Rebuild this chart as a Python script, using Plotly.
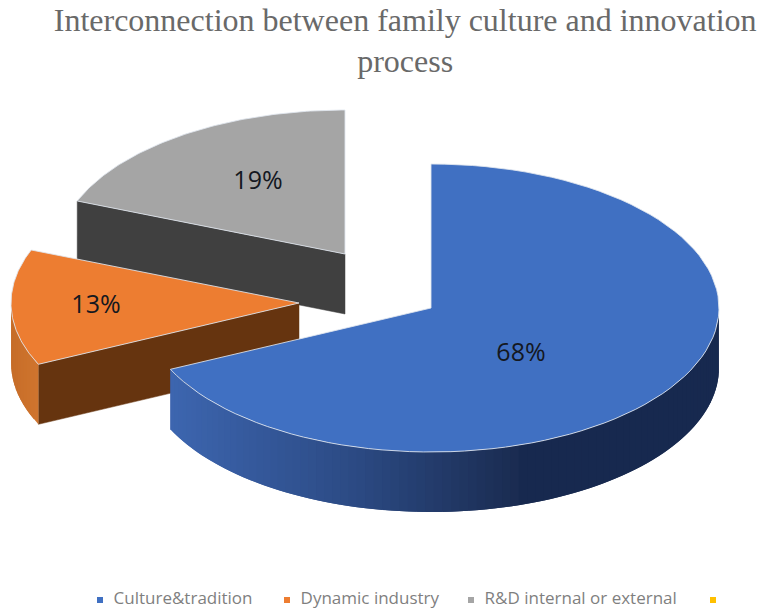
import numpy as np
import plotly.graph_objects as go

categories = ["Culture&tradition", "Dynamic industry", "R&D internal or external", ""]
shares = [68, 13, 19, 0]
share_labels = ["68%", "13%", "19%"]
top_colors = ["#4070C2", "#ED7D31", "#A5A5A5", "#FFC000"]
title_text = "Interconnection between family culture and innovation<br>process"

# Projection of the tilted, exploded pie (axes run in page pixels)
RX, RY, DEPTH = 288, 144, 60
APEX = [(431, 308), (299, 303), (345, 254)]
LABEL_POS = [(521, 355), (96, 307), (258, 183)]
LEGEND_Y = 600
LEGEND_MARK_X = [100, 287, 471, 713]
EDGE = "rgba(225,230,238,0.85)"


def ell(apex, t):
    t = np.radians(t)
    return apex[0] + RX * np.sin(t), apex[1] - RY * np.cos(t)


def mix(a, b, f):
    a = np.array([int(a[i:i + 2], 16) for i in (1, 3, 5)])
    b = np.array([int(b[i:i + 2], 16) for i in (1, 3, 5)])
    c = (a + (b - a) * f).round().astype(int)
    return f"rgb({c[0]},{c[1]},{c[2]})"


def poly(fig, xs, ys, fill, line=None, width=1):
    fig.add_trace(go.Scatter(
        x=list(xs), y=list(ys), mode="lines", fill="toself", fillcolor=fill,
        line=dict(color=line or fill, width=width), hoverinfo="skip", showlegend=False))


def top_face(fig, i, t0, t1):
    ts = np.linspace(t0, t1, 90)
    ex, ey = ell(APEX[i], ts)
    poly(fig, [APEX[i][0], *ex, APEX[i][0]], [APEX[i][1], *ey, APEX[i][1]], top_colors[i], EDGE, 1)


def cut_wall(fig, i, t, color):
    ex, ey = ell(APEX[i], t)
    ax, ay = APEX[i]
    poly(fig, [ax, ex, ex, ax, ax], [ay, ey, ey + DEPTH, ay + DEPTH, ay], color, color, 0.5)


def arc_wall(fig, i, t0, t1, color_fn, n):
    # Each strip runs on under the next one, so the gradient shows no seams
    ts = np.linspace(t0, t1, n + 1)
    for k in range(n):
        strip = np.linspace(ts[k], ts[min(k + 2, n)], 6)
        ex, ey = ell(APEX[i], strip)
        c = color_fn(float(ell(APEX[i], (ts[k] + ts[k + 1]) / 2)[0]))
        poly(fig, [*ex, *ex[::-1], ex[0]], [*ey, *(ey[::-1] + DEPTH), ey[0]], c, c, 0)


bounds = np.cumsum([0] + shares[:3]) * 3.6


def blue_wall(x):
    if x < 350:
        return mix("#3D66B0", "#2C4B85", (x - 168) / 182)
    if x < 520:
        return mix("#2C4B85", "#1A2B50", (x - 350) / 170)
    return "#17294F"


def orange_wall(x):
    return mix("#D0752E", "#C56C28", (38 - x) / 28 if x < 38 else 0)


fig = go.Figure()

# Grey slice (furthest back)
cut_wall(fig, 2, bounds[2], "#404040")
top_face(fig, 2, bounds[2], bounds[3])

# Orange slice
cut_wall(fig, 1, bounds[1], "#66340F")
arc_wall(fig, 1, bounds[1], 270, orange_wall, 12)
top_face(fig, 1, bounds[1], bounds[2])

# Blue slice (in front)
arc_wall(fig, 0, 90, bounds[1], blue_wall, 90)
top_face(fig, 0, bounds[0], bounds[1])

# Percentage labels
fig.add_trace(go.Scatter(
    x=[p[0] for p in LABEL_POS], y=[p[1] for p in LABEL_POS], mode="text",
    text=share_labels, textposition="middle center",
    textfont=dict(family="Open Sans", size=25, color="#14181f"),
    hoverinfo="skip", showlegend=False))

# Legend row
for name, color, mx in zip(categories, top_colors, LEGEND_MARK_X):
    fig.add_trace(go.Scatter(
        x=[mx], y=[LEGEND_Y], mode="markers+text", text=["  " + name if name else ""],
        textposition="middle right",
        marker=dict(symbol="square", size=6, color=color),
        textfont=dict(family="Open Sans", size=17, color="#7F7F7F"),
        hoverinfo="skip", showlegend=False))

fig.update_layout(
    width=763, height=612, margin=dict(l=0, r=0, t=0, b=0),
    paper_bgcolor="white", plot_bgcolor="white", showlegend=False,
    title=dict(text=title_text, x=0.531, xanchor="center", y=0.95, yanchor="top",
               font=dict(family="Liberation Serif", size=32, color="#696969")),
    xaxis=dict(range=[0, 763], visible=False, fixedrange=True),
    yaxis=dict(range=[612, 0], visible=False, fixedrange=True),
)
fig.write_html("out.html", config={"displayModeBar": False},
               post_script="document.body.style.margin='0';document.documentElement.style.overflow='hidden';")
